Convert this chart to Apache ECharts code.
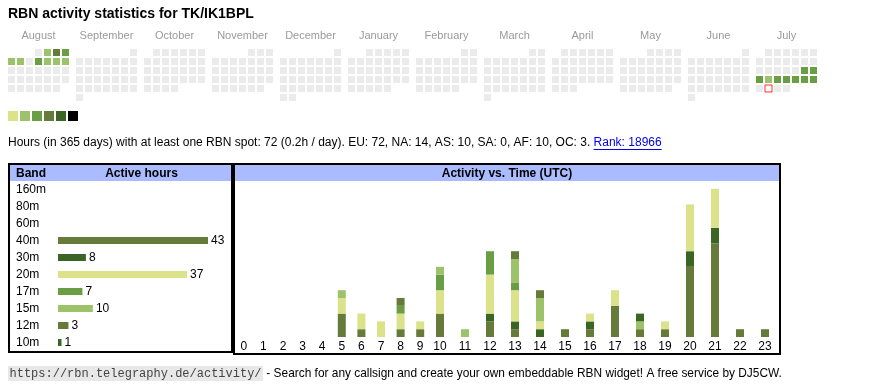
<!DOCTYPE html>
<html><head><meta charset="utf-8">
<script src="https://cdn.jsdelivr.net/npm/echarts@6/dist/echarts.min.js"></script>
<style>html,body{margin:0;padding:0;background:#fff}#c{width:870px;height:390px}</style>
</head><body><div id="c"></div>
<script>
// ---------- data ----------
const titleText = 'RBN activity statistics for TK/IK1BPL';
const months = ['2024-08','2024-09','2024-10','2024-11','2024-12','2025-01','2025-02','2025-03','2025-04','2025-05','2025-06','2025-07'];
const monthNames = ['August','September','October','November','December','January','February','March','April','May','June','July'];
const activeDays = ['2024-08-02','2024-08-03','2024-08-04','2024-08-05','2024-08-06','2024-08-08','2024-08-09','2024-08-10','2024-08-11',
  '2025-07-19','2025-07-20','2025-07-21','2025-07-22','2025-07-23','2025-07-24','2025-07-25','2025-07-26','2025-07-27'];
const dayLevels = [2,4,3,2,2,3,2,2,2, 3,3,3,2,3,3,3,3,3];
const todayDate = '2025-07-29';
const levelValues = [1,2,3,4,5,6];
const levelColors = ['#dbe28a','#9dc36a','#6a9e45','#667a3a','#3b6524','#000000'];

const bands = ['160m','80m','60m','40m','30m','20m','17m','15m','12m','10m'];
const bandHours = [0,0,0,43,8,37,7,10,3,1];
const bandColors = ['#dbe28a','#9dc36a','#6a9e45','#667a3a','#3b6524','#dbe28a','#6a9e45','#9dc36a','#667a3a','#3b6524'];

const hoursA = ['0','1','2','3','4','5','6','7','8','9'];
const hoursB = ['10','11','12','13','14','15','16','17','18','19','20','21','22','23'];
const stackBands = ['40m','30m','20m','17m','15m','12m','10m'];
const h40m = [0,0,0,0,0,3,1,0,1,1,3,0,2,1,0,1,1,4,1,1,9,12,1,1];
const h30m = [0,0,0,0,0,0,0,0,0,0,0,0,1,1,1,0,1,0,0,0,2,2,0,0];
const h20m = [0,0,0,0,0,2,2,2,2,1,3,0,5,4,1,0,1,2,0,1,6,5,0,0];
const h17m = [0,0,0,0,0,0,0,0,1,0,2,0,3,1,0,0,0,0,0,0,0,0,0,0];
const h15m = [0,0,0,0,0,1,0,0,0,0,1,1,0,3,3,0,0,0,1,0,0,0,0,0];
const h12m = [0,0,0,0,0,0,0,0,1,0,0,0,0,1,1,0,0,0,0,0,0,0,0,0];
const h10m = [0,0,0,0,0,0,0,0,0,0,0,0,0,0,0,0,0,0,1,0,0,0,0,0];
const stackColors = ['#667a3a','#3b6524','#dbe28a','#6a9e45','#9dc36a','#667a3a','#3b6524'];

const infoText = 'Hours (in 365 days) with at least one RBN spot: 72 (0.2h / day). EU: 72, NA: 14, AS: 10, SA: 0, AF: 10, OC: 3. ';
const rankText = 'Rank: 18966';
const footUrl = 'https://rbn.telegraphy.de/activity/';
const footText = ' - Search for any callsign and create your own embeddable RBN widget! A free service by DJ5CW.';

// ---------- build ----------
const FF = '"Liberation Sans", Arial, Helvetica, sans-serif';
const MONO = '"Liberation Mono", "DejaVu Sans Mono", monospace';
const mctx = document.createElement('canvas').getContext('2d');
function tw(t, font){ mctx.font = font; return mctx.measureText(t).width; }

const stackArrs = [h40m,h30m,h20m,h17m,h15m,h12m,h10m];

const calendars = months.map((m,i)=>({
  orient:'vertical', range:m, left:7+68*i, top:48, cellSize:[9,9],
  splitLine:{show:false},
  itemStyle:{color:'#ebebeb', borderColor:'#ffffff', borderWidth:2},
  dayLabel:{show:false, firstDay:1}, monthLabel:{show:false},
  yearLabel:{show:true, position:'top', margin:7, formatter:monthNames[i], color:'#9a9a9a', fontSize:11, fontWeight:'normal', fontFamily:FF}
}));

const series = [];
months.forEach((m,i)=>{
  const d = [];
  activeDays.forEach((day,k)=>{ if (day.slice(0,7)===m) d.push([day, dayLevels[k]]); });
  series.push({type:'heatmap', coordinateSystem:'calendar', calendarIndex:i, data:d,
    itemStyle:{borderWidth:0}, emphasis:{disabled:true}});
});
series.push({type:'scatter', coordinateSystem:'calendar', calendarIndex:months.indexOf(todayDate.slice(0,7)),
  data:[[todayDate,0]], symbol:'rect', symbolSize:7,
  itemStyle:{color:'#ffffff', borderColor:'#ff0000', borderWidth:1}, silent:true});

series.push({type:'bar', xAxisIndex:0, yAxisIndex:0, barWidth:7,
  data: bandHours.map((v,i)=>({value:v, itemStyle:{color:bandColors[i]}})),
  label:{show:true, position:'right', distance:3, fontSize:12, fontFamily:FF, color:'#000',
    formatter:p=> p.value>0 ? String(p.value) : ''}});

stackArrs.forEach((arr,k)=>{
  series.push({type:'bar', name:stackBands[k], stack:'a', xAxisIndex:1, yAxisIndex:1, barWidth:8,
    data:arr.slice(0,10), itemStyle:{color:stackColors[k]}});
  series.push({type:'bar', name:stackBands[k], stack:'b', xAxisIndex:2, yAxisIndex:2, barWidth:8,
    data:arr.slice(10), itemStyle:{color:stackColors[k]}});
});

const infoFont = '12px ' + FF;
const infoW = tw(infoText, infoFont);
const rankW = tw(rankText, infoFont);
const urlFont = '12px ' + MONO;
const urlW = tw(footUrl, urlFont);
const footFont = '11.9px ' + FF;

const graphic = [
  {type:'rect', shape:{x:10,y:165,width:221,height:16}, style:{fill:'#aabbff'}},
  {type:'rect', shape:{x:235,y:165,width:544,height:16}, style:{fill:'#aabbff'}},
  {type:'rect', shape:{x:9,y:164,width:223,height:188}, style:{fill:null, stroke:'#000', lineWidth:2}},
  {type:'rect', shape:{x:234,y:164,width:546,height:190}, style:{fill:null, stroke:'#000', lineWidth:2}},
  {type:'text', style:{text:'Band', x:16, y:173.5, verticalAlign:'middle', font:'bold 12px '+FF, fill:'#000'}},
  {type:'text', style:{text:'Active hours', x:141.5, y:173.5, align:'center', verticalAlign:'middle', font:'bold 12px '+FF, fill:'#000'}},
  {type:'text', style:{text:'Activity vs. Time (UTC)', x:507, y:173.5, align:'center', verticalAlign:'middle', font:'bold 12px '+FF, fill:'#000'}},
  {type:'text', style:{text:infoText, x:8, y:143, verticalAlign:'middle', font:infoFont, fill:'#000'}},
  {type:'text', style:{text:rankText, x:8+infoW, y:143, verticalAlign:'middle', font:infoFont, fill:'#0000ee'}},
  {type:'line', shape:{x1:8+infoW, y1:149.5, x2:8+infoW+rankW, y2:149.5}, style:{stroke:'#0000ee', lineWidth:1}},
  {type:'rect', shape:{x:8, y:366, width:urlW+3, height:15}, style:{fill:'#e8e8e8'}},
  {type:'text', style:{text:footUrl, x:9.5, y:374, verticalAlign:'middle', font:urlFont, fill:'#444'}},
  {type:'text', style:{text:footText, x:11+urlW, y:374, verticalAlign:'middle', font:footFont, fill:'#000'}}
];

const option = {
  animation:false,
  title:{text:titleText, left:8, top:7, padding:0, textStyle:{fontSize:14, fontWeight:'bold', color:'#000', fontFamily:FF}},
  calendar: calendars,
  visualMap:{type:'piecewise', pieces: levelValues.map((v,i)=>({value:v, color:levelColors[i]})),
    orient:'horizontal', left:8, top:111, itemWidth:10, itemHeight:10, itemGap:2, itemSymbol:'rect',
    showLabel:false, padding:0, seriesIndex: months.map((m,i)=>i), selectedMode:false, hoverLink:false},
  grid:[
    {left:58, top:181, width:150, height:170},
    {left:234, top:181, width:196, height:156},
    {left:427.5, top:181, width:350, height:156}
  ],
  xAxis:[
    {type:'value', gridIndex:0, min:0, max:'dataMax', show:false},
    {type:'category', gridIndex:1, data:hoursA, axisLine:{show:false}, axisTick:{show:false},
      axisLabel:{margin:4, fontSize:12, color:'#000', fontFamily:FF, interval:0}},
    {type:'category', gridIndex:2, data:hoursB, axisLine:{show:false}, axisTick:{show:false},
      axisLabel:{margin:4, fontSize:12, color:'#000', fontFamily:FF, interval:0}}
  ],
  yAxis:[
    {type:'category', gridIndex:0, data:bands, inverse:true, axisLine:{show:false}, axisTick:{show:false},
      axisLabel:{margin:42, align:'left', fontSize:12, color:'#000', fontFamily:FF}},
    {type:'value', gridIndex:1, min:0, max:20, show:false},
    {type:'value', gridIndex:2, min:0, max:20, show:false}
  ],
  graphic: graphic,
  series: series
};
const chart = echarts.init(document.getElementById('c'), null, {renderer:'canvas'});
chart.setOption(option);
</script>
</body></html>
